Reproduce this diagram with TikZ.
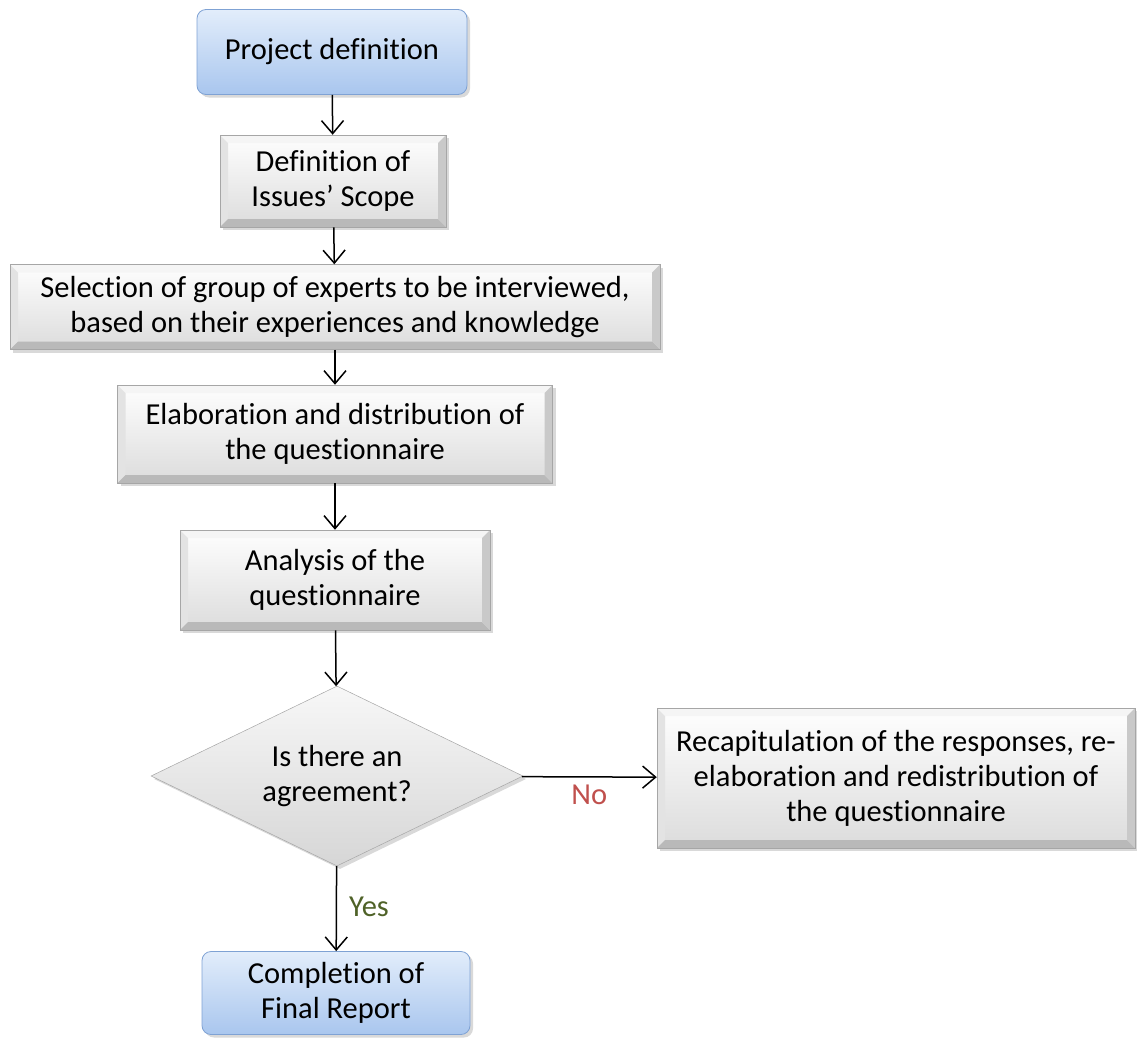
\documentclass[tikz,border=0pt]{standalone}
\usepackage{fontspec}
\setmainfont[Ligatures=NoCommon]{Carlito}
\usepackage{tikz}
\usetikzlibrary{arrows.meta,shapes.geometric,shadows}
\definecolor{kenarGri}{HTML}{A6A6A6}
\definecolor{yuzGri}{HTML}{E6E6E6}
\definecolor{ustMavi}{HTML}{E2EDFB}
\definecolor{altMavi}{HTML}{A9C6EE}
\definecolor{cizgiMavi}{HTML}{7FA2D4}
\definecolor{hayirKirmizi}{HTML}{C0504D}
\definecolor{evetYesil}{HTML}{4F6228}

\begin{document}
\begin{tikzpicture}[x=1pt, y=-1pt,
  every node/.style={font=\fontsize{30.5}{35}\selectfont},
  golge/.style={drop shadow={opacity=0.3,shadow xshift=3pt,shadow yshift=-3pt}},
  mavikutu/.style={draw=cizgiMavi,line width=0.8pt,rounded corners=9pt,golge,
               top color=ustMavi,bottom color=altMavi,align=center,inner sep=0pt},
  grikutu/.style={draw=kenarGri,line width=0.5pt,fill=yuzGri,golge,align=center,inner sep=0pt,
               path picture={
                 \shade[top color=white!97!yuzGri,bottom color=yuzGri!90!gray]
                   (path picture bounding box.north west) rectangle (path picture bounding box.south east);
                 % bevel kenarlari
                 \fill[gray!8] (path picture bounding box.north west) -- (path picture bounding box.north east)
                   -- ([shift={(-8pt,-8pt)}]path picture bounding box.north east)
                   -- ([shift={(8pt,-8pt)}]path picture bounding box.north west) -- cycle;
                 \fill[gray!22] (path picture bounding box.north west) -- (path picture bounding box.south west)
                   -- ([shift={(8pt,8pt)}]path picture bounding box.south west)
                   -- ([shift={(8pt,-8pt)}]path picture bounding box.north west) -- cycle;
                 \fill[gray!55] (path picture bounding box.south west) -- (path picture bounding box.south east)
                   -- ([shift={(-8pt,8pt)}]path picture bounding box.south east)
                   -- ([shift={(8pt,8pt)}]path picture bounding box.south west) -- cycle;
                 \fill[gray!42] (path picture bounding box.north east) -- (path picture bounding box.south east)
                   -- ([shift={(-8pt,8pt)}]path picture bounding box.south east)
                   -- ([shift={(-8pt,-8pt)}]path picture bounding box.north east) -- cycle;}},
  karar/.style={diamond,aspect=2,draw=kenarGri,line width=0.5pt,golge,inner sep=0pt,
               top color=gray!6,bottom color=gray!32,align=center},
  ok/.style={-{Straight Barb[length=13pt,width=22pt,line width=1.5pt]},line width=1.5pt,black}]
\useasboundingbox (0,0) rectangle (1137,1039);
\node[mavikutu,minimum width=270pt,minimum height=85pt] (tanim) at (332,52) {Project definition};
\node[grikutu,minimum width=226pt,minimum height=92pt] (kapsam) at (333,181) {Definition of\\Issues’ Scope};
\node[grikutu,minimum width=650pt,minimum height=85pt] (secim) at (335,307) {Selection of group of experts to be interviewed,\\based on their experiences and knowledge};
\node[grikutu,minimum width=435pt,minimum height=98pt] (dagit) at (335,434) {Elaboration and distribution of\\the questionnaire};
\node[grikutu,minimum width=310pt,minimum height=100pt] (analiz) at (335,580) {Analysis of the\\questionnaire};
\node[karar,minimum width=372pt,minimum height=180pt] (uzlasi) at (337,776) {Is there an\\agreement?};
\node[grikutu,minimum width=478pt,minimum height=140pt] (tekrar) at (896,778) {Recapitulation of the responses, re-\\elaboration and redistribution of\\the questionnaire};
\node[mavikutu,minimum width=268pt,minimum height=83pt] (rapor) at (336,993) {Completion of\\Final Report};
\foreach \x/\y in {tanim/kapsam, kapsam/secim, secim/dagit, dagit/analiz, analiz/uzlasi, uzlasi/rapor}
  \draw[ok] (\x) -- (\y);
\draw[ok] (uzlasi) -- node[below=4pt,text=hayirKirmizi]{No} (tekrar);
\node[text=evetYesil] (evet) at (369,907) {Yes};
\end{tikzpicture}
\end{document}
